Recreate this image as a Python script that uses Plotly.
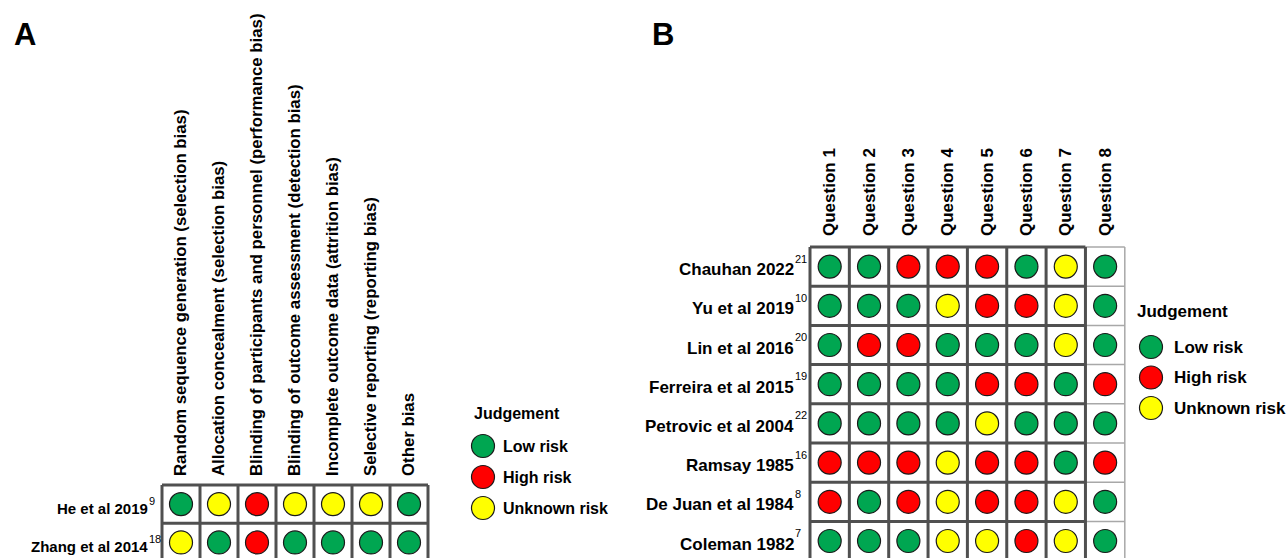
import plotly.graph_objects as go

W, H = 1288, 558

# ---------------- data ----------------
rct_domains = [
    "Random sequence generation (selection bias)",
    "Allocation concealment (selection bias)",
    "Blinding of participants and personnel (performance bias)",
    "Blinding of outcome assessment (detection bias)",
    "Incomplete outcome data (attrition bias)",
    "Selective reporting (reporting bias)",
    "Other bias",
]
rct_studies = ["He et al 2019", "Zhang et al 2014"]
rct_refs = ["9", "18"]
rct_judgements = [
    ["Low", "Unknown", "High", "Unknown", "Unknown", "Unknown", "Low"],
    ["Unknown", "Low", "High", "Low", "Low", "Low", "Low"],
]

questions = ["Question 1", "Question 2", "Question 3", "Question 4",
             "Question 5", "Question 6", "Question 7", "Question 8"]
cohort_studies = ["Chauhan 2022", "Yu et al 2019", "Lin et al 2016",
                  "Ferreira et al 2015", "Petrovic et al 2004", "Ramsay 1985",
                  "De Juan et al 1984", "Coleman 1982"]
cohort_refs = ["21", "10", "20", "19", "22", "16", "8", "7"]
cohort_judgements = [
    ["Low", "Low", "High", "High", "High", "Low", "Unknown", "Low"],
    ["Low", "Low", "Low", "Unknown", "High", "High", "Unknown", "Low"],
    ["Low", "High", "High", "Low", "Low", "Low", "Unknown", "Low"],
    ["Low", "Low", "Low", "Low", "High", "High", "Low", "High"],
    ["Low", "Low", "Low", "Low", "Unknown", "Low", "Low", "Low"],
    ["High", "High", "High", "Unknown", "High", "High", "Low", "High"],
    ["High", "Low", "High", "Unknown", "High", "High", "Unknown", "Low"],
    ["Low", "Low", "Low", "Unknown", "Unknown", "High", "Unknown", "Low"],
]

judgement_levels = ["Low", "High", "Unknown"]
judgement_labels = ["Low risk", "High risk", "Unknown risk"]
judgement_colors = ["#00A651", "#FF0000", "#FFFF00"]

# ---------------- styling ----------------
FONT = "Liberation Sans, Arial, sans-serif"
DARK_GRID = "#505050"
LIGHT_GRID = "#A8A8A8"


def xdom(px0, px1):
    return [px0 / W, px1 / W]


def ydom(py_top, py_bottom):
    return [1 - py_bottom / H, 1 - py_top / H]


fig = go.Figure()


def add_panel(xa, ya, cols, rows, judgements, left, top, colw, rowh, size,
              head_size, standoff):
    """Risk-of-bias grid: one circle per study x item."""
    pad = 3
    ncol, nrow = len(cols), len(rows)
    right = left + ncol * colw
    ax_x = dict(domain=xdom(left - pad, right + pad), anchor=ya["ref"],
                range=[-0.5 - pad / colw, ncol - 0.5 + pad / colw],
                type="linear", showgrid=False, zeroline=False, showline=False,
                tickmode="array", tickvals=list(range(ncol)), ticktext=cols,
                side="top", tickangle=-90, ticks="", ticklabelstandoff=standoff,
                tickfont=dict(family=FONT, size=head_size, color="#000",
                              weight="bold"),
                fixedrange=True)
    bottom_val = -0.5 + (H - top) / rowh
    ax_y = dict(domain=ydom(top - pad, H), anchor=xa["ref"],
                range=[bottom_val, -0.5 - pad / rowh],
                type="linear", showgrid=False, zeroline=False, showline=False,
                showticklabels=False, ticks="", fixedrange=True)
    fig.update_layout(**{xa["layout"]: ax_x, ya["layout"]: ax_y})

    for level, color in zip(judgement_levels, judgement_colors):
        xs, ys = [], []
        for r, row in enumerate(judgements):
            for c, j in enumerate(row):
                if j == level:
                    xs.append(c)
                    ys.append(r)
        fig.add_trace(go.Scatter(
            x=xs, y=ys, mode="markers", xaxis=xa["ref"], yaxis=ya["ref"],
            marker=dict(size=size, color=color,
                        line=dict(color="#1a1a1a", width=1.2)),
            showlegend=False, hoverinfo="skip"))
    return ncol, nrow


def grid_lines(xa, ya, c_from, c_to, nrow, color, width):
    shapes = []
    for k in range(c_from, c_to + 1):
        shapes.append(dict(type="line", xref=xa, yref=ya,
                           x0=k - 0.5, x1=k - 0.5, y0=-0.5, y1=nrow - 0.5,
                           line=dict(color=color, width=width)))
    for r in range(nrow + 1):
        shapes.append(dict(type="line", xref=xa, yref=ya,
                           x0=c_from - 0.5, x1=c_to - 0.5, y0=r - 0.5, y1=r - 0.5,
                           line=dict(color=color, width=width)))
    return shapes


def row_labels(yref, rows, refs, x_right, font_size, dy_main, dy_sup, sup_size):
    anns = []
    for r, (name, ref) in enumerate(zip(rows, refs)):
        anns.append(dict(text=name, xref="paper", yref=yref,
                         x=x_right / W, y=r, xanchor="right", yanchor="middle",
                         yshift=dy_main, showarrow=False,
                         font=dict(family=FONT, size=font_size, color="#000",
                                   weight="bold")))
        anns.append(dict(text=ref, xref="paper", yref=yref,
                         x=(x_right - 3) / W, y=r, xanchor="left",
                         yanchor="middle", yshift=dy_sup, showarrow=False,
                         font=dict(family=FONT, size=sup_size, color="#000")))
    return anns


def add_key(xa, ya, cx, cy_top, spacing, title_x, title_y, label_gap, font_size):
    n = len(judgement_levels)
    fig.update_layout(**{
        xa["layout"]: dict(domain=xdom(cx - 15, cx + 15), range=[-1, 1],
                           anchor=ya["ref"], visible=False, fixedrange=True),
        ya["layout"]: dict(domain=ydom(cy_top - spacing / 2,
                                       cy_top + (n - 0.5) * spacing),
                           anchor=xa["ref"], range=[n - 0.5, -0.5],
                           visible=False, fixedrange=True),
    })
    fig.add_trace(go.Scatter(
        x=[0] * n, y=list(range(n)), mode="markers",
        xaxis=xa["ref"], yaxis=ya["ref"],
        marker=dict(size=23, color=judgement_colors,
                    line=dict(color="#1a1a1a", width=1.2)),
        showlegend=False, hoverinfo="skip"))
    anns = [dict(text="Judgement", xref="paper", yref="paper",
                 x=title_x / W, y=1 - title_y / H, xanchor="left",
                 yanchor="middle", showarrow=False,
                 font=dict(family=FONT, size=font_size, color="#000",
                           weight="bold"))]
    for i, lab in enumerate(judgement_labels):
        anns.append(dict(text=lab, xref=xa["ref"], yref=ya["ref"], x=0, y=i,
                         xanchor="left", yanchor="middle", xshift=label_gap,
                         showarrow=False,
                         font=dict(family=FONT, size=font_size, color="#000",
                                   weight="bold")))
    return anns


AX = [dict(ref="x", layout="xaxis"), dict(ref="x2", layout="xaxis2"),
      dict(ref="x3", layout="xaxis3"), dict(ref="x4", layout="xaxis4")]
AY = [dict(ref="y", layout="yaxis"), dict(ref="y2", layout="yaxis2"),
      dict(ref="y3", layout="yaxis3"), dict(ref="y4", layout="yaxis4")]

# Panel A: randomised trials
nA_c, nA_r = add_panel(AX[0], AY[0], rct_domains, rct_studies, rct_judgements,
                       left=162, top=485, colw=38.0, rowh=38.3, size=23,
                       head_size=16.8, standoff=5)
# Panel B: observational studies
nB_c, nB_r = add_panel(AX[1], AY[1], questions, cohort_studies, cohort_judgements,
                       left=810, top=247, colw=39.35, rowh=39.2, size=23,
                       head_size=17, standoff=7)

shapes = []
shapes += grid_lines("x", "y", 0, nA_c, nA_r, DARK_GRID, 3)
shapes += grid_lines("x2", "y2", nB_c - 1, nB_c, nB_r, LIGHT_GRID, 1.5)
shapes += grid_lines("x2", "y2", 0, nB_c - 1, nB_r, DARK_GRID, 3)
for s in shapes:
    s["layer"] = "below"

annotations = []
annotations += row_labels("y", rct_studies, rct_refs, 150, 15, -4, 3, 11)
annotations += row_labels("y2", cohort_studies, cohort_refs, 796, 17, -3, 8, 11)
annotations += add_key(AX[2], AY[2], cx=483, cy_top=446, spacing=31,
                       title_x=472, title_y=413, label_gap=18, font_size=16)
annotations += add_key(AX[3], AY[3], cx=1151, cy_top=347, spacing=30.5,
                       title_x=1135, title_y=311, label_gap=21, font_size=17)

for letter, lx in (("A", 12), ("B", 650)):
    annotations.append(dict(text=letter, xref="paper", yref="paper",
                            x=lx / W, y=1 - 34 / H, xanchor="left",
                            yanchor="middle", showarrow=False,
                            font=dict(family=FONT, size=31, color="#000",
                                      weight="bold")))

fig.update_layout(
    width=W, height=H, margin=dict(l=0, r=0, t=0, b=0),
    paper_bgcolor="white", plot_bgcolor="white",
    shapes=shapes, annotations=annotations, showlegend=False,
)

fig.write_html("out.html", config={"displayModeBar": False})
